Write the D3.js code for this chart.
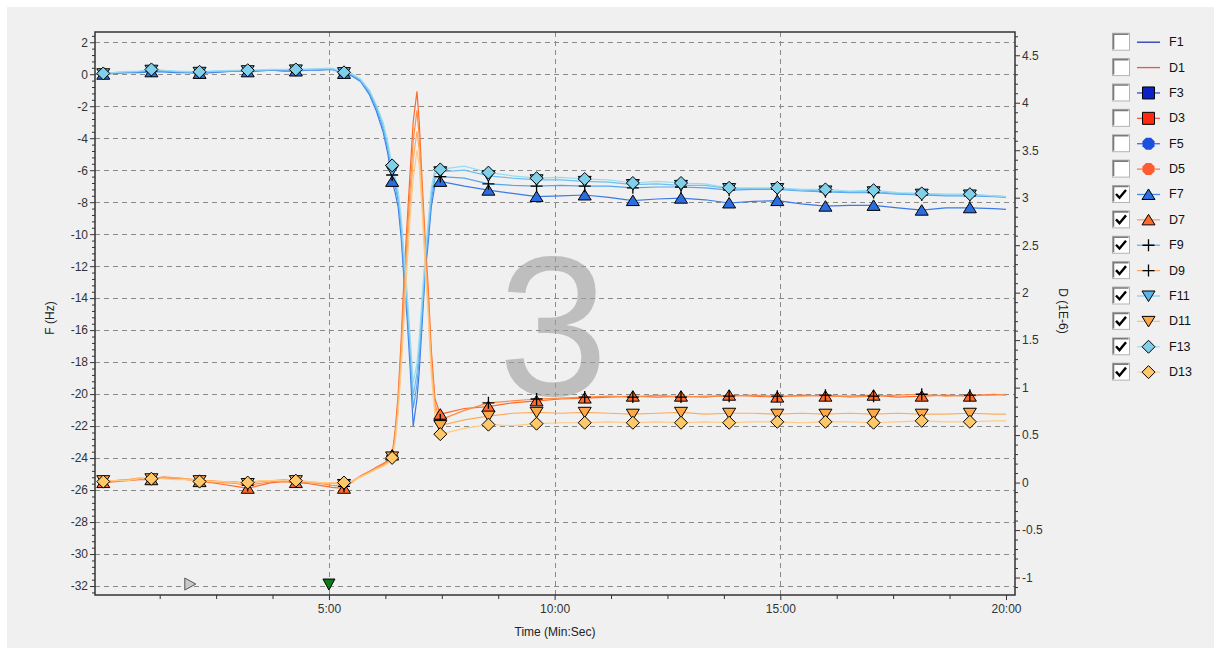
<!DOCTYPE html>
<html>
<head>
<meta charset="utf-8">
<script src="https://cdn.jsdelivr.net/npm/d3@7"></script>
<style>
  body { margin: 0; background: #ffffff; }
  svg text { font-family: "Liberation Sans", Arial, sans-serif; }
</style>
</head>
<body>
<svg id="chart" width="1221" height="655"></svg>
<script>
// ---- sample times (seconds) ----
const time = [
  0, 16, 32, 48, 64, 80, 96, 112, 128, 144, 160, 176, 192, 208, 224, 240, 256, 272, 288, 304, 320,
  330, 342, 354, 363, 372, 378, 384, 388, 392, 396, 400, 404, 408, 412, 417, 420, 424, 428, 432, 436, 441,
  448, 480, 512, 544, 576, 608, 640, 672, 704, 736, 768, 800, 832, 864, 896, 928, 960, 992, 1024, 1056, 1088, 1120, 1152, 1184, 1200
];

// times at which the point symbols are drawn
const markerTimes = [0, 64, 128, 192, 256, 320, 384, 448, 512, 576, 640, 704, 768, 832, 896, 960, 1024, 1088, 1152];

// ---- frequency shift, Hz (left axis) ----
const F7 = [
  0, 0.05, 0.1, 0.1, 0.15, 0.15, 0.1, 0.1, 0.05, 0.1, 0.15, 0.2, 0.15, 0.2, 0.25, 0.2, 0.2, 0.25, 0.25, 0.3, 0.05,
  -0.1, -0.45, -1.3, -2.3, -3.6, -4.9, -6.7, -7.4, -8.3, -10.2, -13.0, -15.3, -18.4, -22.0, -20.3, -18.6, -15.5, -12.4, -10.5, -8.3, -6.9,
  -6.7, -7.0, -7.25, -7.45, -7.65, -7.6, -7.55, -7.7, -7.9, -7.8, -7.75, -7.85, -8.05, -7.95, -7.9, -8.1, -8.25, -8.2, -8.2, -8.35, -8.5, -8.35, -8.35, -8.4, -8.45
];
const F9 = [
  0.02, 0.08, 0.12, 0.15, 0.2, 0.2, 0.15, 0.12, 0.1, 0.15, 0.18, 0.2, 0.2, 0.22, 0.25, 0.25, 0.25, 0.28, 0.3, 0.32, 0.08,
  -0.05, -0.4, -1.2, -2.1, -3.4, -4.6, -6.3, -7.0, -7.9, -9.7, -12.4, -14.7, -17.6, -20.9, -19.4, -17.8, -14.9, -12.0, -10.0, -7.9, -6.5,
  -6.4, -6.5, -6.85, -6.95, -7.0, -6.95, -7.0, -7.0, -7.1, -7.05, -7.05, -7.1, -7.25, -7.2, -7.2, -7.3, -7.35, -7.4, -7.4, -7.5, -7.55, -7.6, -7.6, -7.65, -7.7
];
const F11 = [
  0.03, 0.1, 0.15, 0.18, 0.25, 0.22, 0.18, 0.15, 0.12, 0.18, 0.2, 0.22, 0.22, 0.25, 0.28, 0.28, 0.27, 0.3, 0.32, 0.35, 0.1,
  0.0, -0.35, -1.1, -2.0, -3.2, -4.4, -6.0, -6.7, -7.6, -9.3, -11.9, -14.2, -17.0, -20.1, -18.7, -17.1, -14.4, -11.6, -9.6, -7.5, -6.2,
  -6.1, -6.0, -6.35, -6.5, -6.6, -6.6, -6.7, -6.75, -6.9, -6.85, -6.95, -6.95, -7.15, -7.15, -7.15, -7.25, -7.3, -7.35, -7.35, -7.45, -7.5, -7.55, -7.55, -7.6, -7.65
];
const F13 = [
  0.05, 0.12, 0.18, 0.2, 0.3, 0.25, 0.2, 0.18, 0.15, 0.2, 0.22, 0.25, 0.25, 0.28, 0.3, 0.3, 0.3, 0.32, 0.35, 0.38, 0.12,
  0.05, -0.3, -1.0, -1.9, -3.0, -4.2, -5.7, -6.4, -7.3, -8.9, -11.4, -13.7, -16.4, -19.3, -18.1, -16.5, -13.9, -11.2, -9.2, -7.1, -5.9,
  -5.95, -5.75, -6.15, -6.35, -6.5, -6.45, -6.55, -6.6, -6.8, -6.7, -6.8, -6.85, -7.1, -7.1, -7.1, -7.2, -7.2, -7.3, -7.25, -7.4, -7.45, -7.5, -7.5, -7.6, -7.65
];

// ---- dissipation, 1E-6 (right axis) ----
const D7 = [
  0.0, 0.01, 0.02, 0.03, 0.03, 0.05, 0.04, 0.03, 0.01, 0.0, -0.02, -0.04, -0.06, -0.03, 0.0, 0.01, 0.0, -0.01, -0.03, -0.05, -0.06,
  0.0, 0.07, 0.12, 0.16, 0.2, 0.23, 0.29, 0.55, 0.92, 1.5, 2.2, 2.75, 3.28, 3.8, 4.12, 3.8, 3.15, 2.55, 2.05, 1.4, 0.88,
  0.72, 0.78, 0.80, 0.84, 0.86, 0.88, 0.89, 0.90, 0.91, 0.90, 0.91, 0.90, 0.92, 0.91, 0.90, 0.92, 0.91, 0.91, 0.92, 0.90, 0.91, 0.92, 0.91, 0.93, 0.92
];
const D9 = [
  0.01, 0.02, 0.03, 0.04, 0.04, 0.06, 0.05, 0.04, 0.02, 0.01, 0.0, -0.01, -0.03, -0.01, 0.01, 0.02, 0.01, 0.0, -0.01, -0.03, -0.04,
  0.01, 0.07, 0.12, 0.15, 0.19, 0.22, 0.28, 0.5, 0.86, 1.4, 2.05, 2.6, 3.1, 3.6, 3.92, 3.65, 3.05, 2.45, 1.95, 1.3, 0.82,
  0.66, 0.76, 0.84, 0.86, 0.88, 0.89, 0.90, 0.91, 0.90, 0.92, 0.90, 0.91, 0.91, 0.92, 0.91, 0.91, 0.92, 0.90, 0.91, 0.92, 0.93, 0.91, 0.92, 0.92, 0.93
];
const D11 = [
  0.02, 0.02, 0.03, 0.05, 0.04, 0.05, 0.05, 0.04, 0.02, 0.02, 0.01, 0.01, -0.01, 0.01, 0.02, 0.03, 0.02, 0.01, 0.0, -0.01, -0.02,
  0.01, 0.06, 0.11, 0.15, 0.18, 0.21, 0.27, 0.46, 0.8, 1.3, 1.9, 2.45, 2.95, 3.4, 3.7, 3.5, 2.95, 2.35, 1.85, 1.25, 0.78,
  0.60, 0.66, 0.70, 0.73, 0.74, 0.73, 0.74, 0.73, 0.72, 0.73, 0.74, 0.72, 0.73, 0.73, 0.72, 0.73, 0.72, 0.73, 0.72, 0.73, 0.72, 0.72, 0.73, 0.72, 0.72
];
const D13 = [
  0.01, 0.02, 0.02, 0.04, 0.04, 0.04, 0.03, 0.03, 0.01, 0.01, 0.01, 0.0, 0.0, 0.02, 0.02, 0.02, 0.02, 0.01, 0.0, 0.0, 0.0,
  0.01, 0.06, 0.1, 0.14, 0.17, 0.2, 0.26, 0.42, 0.74, 1.2, 1.75, 2.3, 2.8, 3.2, 3.5, 3.35, 2.85, 2.25, 1.75, 1.15, 0.7,
  0.51, 0.57, 0.61, 0.60, 0.62, 0.63, 0.63, 0.64, 0.63, 0.64, 0.63, 0.64, 0.63, 0.64, 0.64, 0.63, 0.64, 0.64, 0.63, 0.64, 0.65, 0.64, 0.64, 0.65, 0.65
];

// ---- axis ticks ----
const fTicks = d3.range(-32, 3, 2);
const dTicks = [-1, -0.5, 0, 0.5, 1, 1.5, 2, 2.5, 3, 3.5, 4, 4.5];
const timeTicks = [300, 600, 900, 1200];
const timeGrid = [300, 600, 900];

// event flags along the time axis
const eventTimes = [115, 300];

// legend entries
const legendNames = ["F1", "D1", "F3", "D3", "F5", "D5", "F7", "D7", "F9", "D9", "F11", "D11", "F13", "D13"];
const legendChecked = [false, false, false, false, false, false, true, true, true, true, true, true, true, true];

// ---- layout ----
const svg = d3.select("#chart");
const plot = { left: 95, right: 1015, top: 32, bottom: 595 };

const x = d3.scaleLinear().domain([-11, 1212]).range([plot.left, plot.right]);
const yF = d3.scaleLinear().domain([-32.56, 2.64]).range([plot.bottom, plot.top]);
const yD = d3.scaleLinear().domain([-1.184, 4.745]).range([plot.bottom, plot.top]);

// panel background
svg.append("rect").attr("x", 0).attr("y", 0).attr("width", 1221).attr("height", 655).attr("fill", "#ffffff");
svg.append("rect").attr("x", 7).attr("y", 7).attr("width", 1207).attr("height", 641).attr("fill", "#f0f0f0");

// clip for the data area
svg.append("defs").append("clipPath").attr("id", "plotClip")
  .append("rect").attr("x", plot.left).attr("y", plot.top)
  .attr("width", plot.right - plot.left).attr("height", plot.bottom - plot.top);

// ---- grid ----
const grid = svg.append("g").attr("stroke", "#8a8a8a").attr("stroke-width", 1).attr("stroke-dasharray", "5,4");
grid.selectAll("line.h").data(fTicks).join("line")
  .attr("x1", plot.left).attr("x2", plot.right)
  .attr("y1", d => Math.round(yF(d)) + 0.5).attr("y2", d => Math.round(yF(d)) + 0.5);
grid.selectAll("line.v").data(timeGrid).join("line")
  .attr("y1", plot.top).attr("y2", plot.bottom)
  .attr("x1", d => Math.round(x(d)) + 0.5).attr("x2", d => Math.round(x(d)) + 0.5);

// ---- watermark ----
svg.append("text")
  .attr("x", 553).attr("y", 395)
  .attr("text-anchor", "middle")
  .attr("font-size", 198)
  .attr("fill", "#a0a0a0").attr("fill-opacity", 0.62)
  .text("3");

// ---- series ----
const series = [
  { name: "F7",  values: F7,  y: yF, line: "#3c7ae6", fill: "#2a6ee0", sym: "up" },
  { name: "D7",  values: D7,  y: yD, line: "#ff6a2c", fill: "#ff6a2a", sym: "up" },
  { name: "F9",  values: F9,  y: yF, line: "#56a4f0", fill: "#000000", sym: "plus" },
  { name: "D9",  values: D9,  y: yD, line: "#ff8c42", fill: "#000000", sym: "plus" },
  { name: "F11", values: F11, y: yF, line: "#70bff0", fill: "#5ab4e6", sym: "down" },
  { name: "D11", values: D11, y: yD, line: "#ffac5c", fill: "#ffa848", sym: "down" },
  { name: "F13", values: F13, y: yF, line: "#98dcf2", fill: "#7fd0e8", sym: "diamond" },
  { name: "D13", values: D13, y: yD, line: "#ffca84", fill: "#ffc868", sym: "diamond" }
];

const symbolPath = {
  up: "M0,-5.5L6.5,5L-6.5,5Z",
  down: "M0,5.5L6.5,-5L-6.5,-5Z",
  diamond: "M0,-6.5L6.5,0L0,6.5L-6.5,0Z",
  plus: "M-6,0L6,0M0,-6L0,6",
  square: "M-6,-6L6,-6L6,6L-6,6Z",
  circle: "M-2.5,-6L2.5,-6L6,-2.5L6,2.5L2.5,6L-2.5,6L-6,2.5L-6,-2.5Z"
};

const dataG = svg.append("g").attr("clip-path", "url(#plotClip)");

series.forEach(s => {
  const pts = time.map((t, i) => [t, s.values[i]]);
  dataG.append("path")
    .datum(pts)
    .attr("fill", "none")
    .attr("stroke", s.line)
    .attr("stroke-width", 1.2)
    .attr("d", d3.line().x(d => x(d[0])).y(d => s.y(d[1])));
});

series.forEach(s => {
  const pts = markerTimes.map(t => {
    const i = time.indexOf(t);
    return [t, s.values[i]];
  });
  dataG.selectAll(null).data(pts).join("path")
    .attr("transform", d => `translate(${x(d[0])},${s.y(d[1])})`)
    .attr("d", symbolPath[s.sym])
    .attr("fill", s.sym === "plus" ? "none" : s.fill)
    .attr("stroke", "#000")
    .attr("stroke-width", s.sym === "plus" ? 1.3 : 1);
});

// event flags
const flagY = yF(-32) - 2;
svg.append("path")
  .attr("transform", `translate(${x(eventTimes[0])},${flagY})`)
  .attr("d", "M-5,-6L6,0L-5,6Z")
  .attr("fill", "#c8c8c8").attr("stroke", "#555").attr("stroke-width", 1);
svg.append("path")
  .attr("transform", `translate(${x(eventTimes[1])},${flagY})`)
  .attr("d", "M-6,-5L6,-5L0,6Z")
  .attr("fill", "#0a7d16").attr("stroke", "#000").attr("stroke-width", 1);

// ---- frame ----
svg.append("rect")
  .attr("x", plot.left).attr("y", plot.top)
  .attr("width", plot.right - plot.left).attr("height", plot.bottom - plot.top)
  .attr("fill", "none").attr("stroke", "#333").attr("stroke-width", 1.5);

// ---- axes ----
const fmtNum = d => String(d);
const fmtTime = s => `${Math.floor(s / 60)}:${String(s % 60).padStart(2, "0")}`;

function styleAxis(g) {
  g.select(".domain").remove();
  g.selectAll(".tick line").attr("stroke", "#333");
  g.selectAll(".tick text").attr("fill", "#333").attr("font-size", 12)
    .attr("font-family", "'Liberation Sans', Arial, sans-serif");
}

// left axis
svg.append("g").attr("transform", `translate(${plot.left},0)`)
  .call(d3.axisLeft(yF).tickValues(fTicks).tickSize(5).tickPadding(2).tickFormat(fmtNum))
  .call(styleAxis);
svg.append("g").attr("transform", `translate(${plot.left},0)`)
  .call(d3.axisLeft(yF).tickValues(d3.range(-32.4, 2.5, 0.4).filter(v => Math.abs(v / 2 - Math.round(v / 2)) > 0.01)).tickSize(3).tickFormat(""))
  .call(styleAxis);

// right axis
svg.append("g").attr("transform", `translate(${plot.right},0)`)
  .call(d3.axisRight(yD).tickValues(dTicks).tickSize(5).tickPadding(2).tickFormat(fmtNum))
  .call(styleAxis);
svg.append("g").attr("transform", `translate(${plot.right},0)`)
  .call(d3.axisRight(yD).tickValues(d3.range(-1.1, 4.75, 0.1).filter(v => Math.abs(v * 2 - Math.round(v * 2)) > 0.01)).tickSize(3).tickFormat(""))
  .call(styleAxis);

// bottom axis
svg.append("g").attr("transform", `translate(0,${plot.bottom})`)
  .call(d3.axisBottom(x).tickValues(timeTicks).tickSize(5).tickPadding(4).tickFormat(fmtTime))
  .call(styleAxis);
svg.append("g").attr("transform", `translate(0,${plot.bottom})`)
  .call(d3.axisBottom(x).tickValues(d3.range(75, 1200, 75).filter(v => v % 300 !== 0)).tickSize(4).tickFormat(""))
  .call(styleAxis);

// axis titles
svg.append("text").attr("transform", "translate(54,318) rotate(-90)")
  .attr("text-anchor", "middle").attr("font-size", 12).attr("fill", "#222").text("F (Hz)");
svg.append("text").attr("transform", "translate(1059,311) rotate(90)")
  .attr("text-anchor", "middle").attr("font-size", 12).attr("fill", "#222").text("D (1E-6)");
svg.append("text").attr("x", 555).attr("y", 636)
  .attr("text-anchor", "middle").attr("font-size", 12).attr("fill", "#222").text("Time (Min:Sec)");

// ---- legend ----
const legendStyle = {
  F1: { line: "#2436b0", sym: null },
  D1: { line: "#ff4a4a", sym: null },
  F3: { line: "#2a50e0", sym: "square", fill: "#0a22c8" },
  D3: { line: "#ff5a4a", sym: "square", fill: "#ff2a10" },
  F5: { line: "#3a6cf0", sym: "circle", fill: "#1a4fe0", noStroke: true },
  D5: { line: "#ff7a5a", sym: "circle", fill: "#ff5a30", noStroke: true },
  F7: { line: "#4a8cf0", sym: "up", fill: "#2a6ee0" },
  D7: { line: "#ff9a70", sym: "up", fill: "#ff6a2a" },
  F9: { line: "#64b0f4", sym: "plus" },
  D9: { line: "#ffa868", sym: "plus" },
  F11: { line: "#8cd0f2", sym: "down", fill: "#5ab4e6" },
  D11: { line: "#ffc080", sym: "down", fill: "#ffa848" },
  F13: { line: "#a8e0f2", sym: "diamond", fill: "#7fd0e8" },
  D13: { line: "#ffd49a", sym: "diamond", fill: "#ffc868" }
};

const legend = svg.append("g");
legendNames.forEach((name, i) => {
  const cy = 41.7 + i * 25.38;
  const g = legend.append("g").attr("transform", `translate(0,${cy})`);
  // checkbox
  g.append("rect").attr("x", 1112.5).attr("y", -8.5).attr("width", 17).attr("height", 17)
    .attr("fill", "#ffffff").attr("stroke", "#b4b4b4");
  g.append("path").attr("d", "M1113.5,7.5L1113.5,-7.5L1128.5,-7.5")
    .attr("fill", "none").attr("stroke", "#7a7a7a").attr("stroke-width", 1.6);
  if (legendChecked[i]) {
    g.append("path").attr("d", "M1116,0L1119.5,3.8L1126,-4")
      .attr("fill", "none").attr("stroke", "#000").attr("stroke-width", 2.4);
  }
  const st = legendStyle[name];
  g.append("line").attr("x1", 1137).attr("x2", 1160).attr("y1", 0.5).attr("y2", 0.5)
    .attr("stroke", st.line).attr("stroke-width", 1.3);
  if (st.sym) {
    g.append("path").attr("transform", "translate(1148.5,0.5)")
      .attr("d", symbolPath[st.sym])
      .attr("fill", st.sym === "plus" ? "none" : st.fill)
      .attr("stroke", st.noStroke ? "none" : "#000")
      .attr("stroke-width", st.sym === "plus" ? 1.3 : 1);
  }
  g.append("text").attr("x", 1169).attr("y", 4.5)
    .attr("font-size", 12.5).attr("fill", "#111").text(name);
});
</script>
</body>
</html>
